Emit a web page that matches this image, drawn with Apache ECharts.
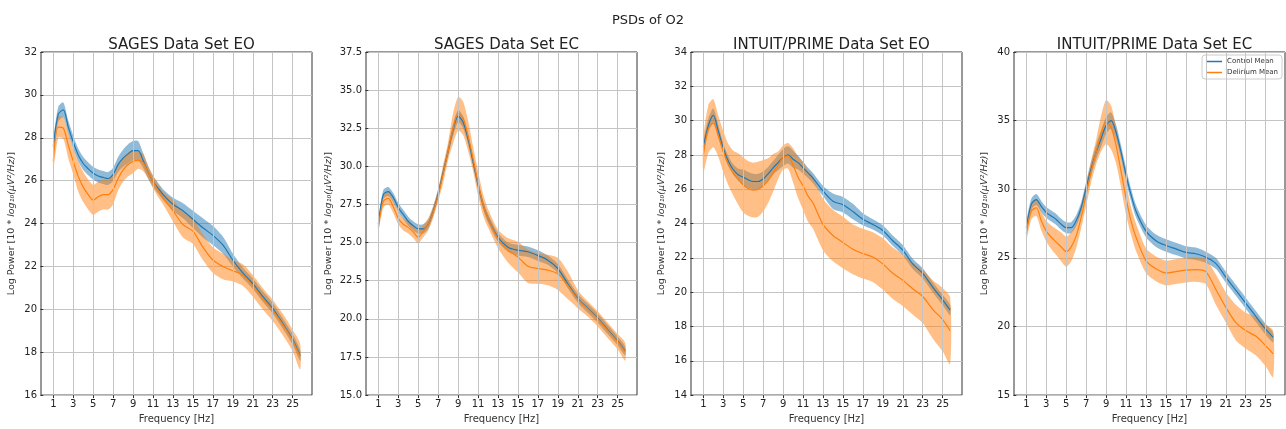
<!DOCTYPE html>
<html>
<head>
<meta charset="utf-8">
<script src="https://cdn.jsdelivr.net/npm/echarts@6/dist/echarts.min.js"></script>
<style>
html,body{margin:0;padding:0;background:#fff;}
#chart{width:1286px;height:429px;}
</style>
</head>
<body>
<div id="chart"></div>
<script>
// Frequency grid (Hz)
const freqs = [1,1.5,2,2.5,3,3.5,4,4.5,5,5.5,6,6.5,7,7.5,8,8.5,9,9.5,10,10.5,11,11.5,12,13,14,15,16,17,18,19,20,21,22,23,24,25,25.75];
const xTicks = [1,3,5,7,9,11,13,15,17,19,21,23,25];

const mainTitle = 'PSDs of O2';
const panelTitles = ['SAGES Data Set EO','SAGES Data Set EC','INTUIT/PRIME Data Set EO','INTUIT/PRIME Data Set EC'];
const legendNames = ['Control Mean','Delirium Mean'];

// SAGES EO
const sagesEoControl   = [27.6,29.1,29.3,28.5,27.8,27.2,26.8,26.55,26.35,26.22,26.15,26.1,26.3,26.75,27.05,27.25,27.4,27.4,26.95,26.4,25.95,25.65,25.35,24.9,24.6,24.2,23.8,23.45,23.0,22.3,21.7,21.2,20.6,20.05,19.35,18.6,17.85];
const sagesEoControlSd = [0.3,0.35,0.35,0.3,0.3,0.3,0.3,0.3,0.3,0.3,0.3,0.3,0.3,0.35,0.4,0.45,0.45,0.45,0.35,0.3,0.25,0.25,0.25,0.3,0.35,0.4,0.45,0.45,0.4,0.3,0.25,0.25,0.25,0.25,0.25,0.25,0.25];
const sagesEoDelirium   = [26.9,28.5,28.45,27.65,26.9,26.2,25.7,25.35,25.1,25.25,25.35,25.35,25.6,26.1,26.5,26.75,26.9,26.95,26.85,26.4,25.95,25.55,25.2,24.6,23.95,23.65,22.9,22.3,22.0,21.8,21.6,21.1,20.5,19.95,19.3,18.55,17.8];
const sagesEoDeliriumSd = [0.4,0.5,0.5,0.6,0.6,0.7,0.7,0.7,0.7,0.7,0.7,0.7,0.7,0.55,0.55,0.55,0.55,0.4,0.4,0.3,0.3,0.3,0.3,0.5,0.6,0.6,0.6,0.6,0.6,0.5,0.5,0.5,0.5,0.5,0.5,0.5,0.6];

// SAGES EC
const sagesEcControl   = [26.2,28.15,28.35,27.95,27.3,26.85,26.4,26.1,25.9,25.9,26.2,27.05,28.2,29.6,31.0,32.4,33.3,32.9,31.8,30.3,28.8,27.5,26.6,25.35,24.7,24.5,24.4,24.15,23.85,23.3,22.3,21.35,20.7,20.05,19.3,18.55,17.9];
const sagesEcControlSd = [0.3,0.3,0.3,0.3,0.3,0.3,0.3,0.3,0.3,0.3,0.3,0.3,0.3,0.3,0.35,0.4,0.4,0.4,0.35,0.3,0.3,0.3,0.3,0.3,0.3,0.35,0.35,0.35,0.3,0.3,0.3,0.3,0.3,0.3,0.3,0.3,0.3];
const sagesEcDelirium   = [26.0,27.7,27.9,27.35,26.6,26.2,26.0,25.7,25.35,25.75,26.2,27.0,28.1,29.5,31.0,32.5,33.45,33.15,32.0,30.5,28.9,27.5,26.6,25.25,24.5,24.05,23.45,23.3,23.2,22.95,22.2,21.3,20.65,20.0,19.25,18.5,17.85];
const sagesEcDeliriumSd = [0.3,0.4,0.4,0.4,0.4,0.4,0.4,0.4,0.4,0.4,0.4,0.4,0.4,0.6,0.6,1.0,1.1,1.1,1.0,0.8,0.8,0.7,0.6,0.6,0.8,1.0,1.1,1.0,1.0,1.05,0.9,0.6,0.5,0.5,0.5,0.5,0.6];

// INTUIT/PRIME EO
const intuitEoControl   = [28.45,29.7,30.3,29.4,28.4,27.65,27.15,26.85,26.7,26.55,26.45,26.45,26.6,26.9,27.25,27.55,27.85,28.0,27.75,27.55,27.25,26.95,26.65,25.9,25.3,25.1,24.7,24.25,23.95,23.6,23.0,22.45,21.65,21.1,20.3,19.55,18.95];
const intuitEoControlSd = [0.3,0.4,0.4,0.35,0.3,0.3,0.3,0.35,0.45,0.45,0.45,0.45,0.45,0.4,0.4,0.45,0.5,0.5,0.5,0.4,0.35,0.3,0.3,0.3,0.45,0.45,0.45,0.35,0.3,0.3,0.3,0.3,0.3,0.3,0.3,0.3,0.3];
const intuitEoDelirium   = [27.95,29.5,29.85,29.1,28.2,27.45,26.95,26.6,26.25,26.05,25.95,26.0,26.2,26.5,26.95,27.4,27.85,27.95,27.4,26.7,26.2,25.6,25.2,23.95,23.3,22.9,22.5,22.25,22.05,21.65,21.1,20.7,20.2,19.75,19.0,18.4,17.75];
const intuitEoDeliriumSd = [1.0,1.4,1.4,1.2,1.2,1.2,1.3,1.5,1.6,1.6,1.6,1.6,1.5,1.3,1.1,0.8,0.7,0.75,1.0,1.2,1.4,1.5,1.5,1.5,1.5,1.5,1.45,1.45,1.45,1.5,1.5,1.5,1.5,1.55,1.7,1.85,1.95];

// INTUIT/PRIME EC
const intuitEcControl   = [27.2,28.9,29.25,28.75,28.3,28.05,27.8,27.45,27.2,27.2,27.7,28.65,30.1,31.5,32.7,33.7,34.65,35.0,34.15,32.7,31.05,29.6,28.4,26.95,26.25,25.9,25.65,25.4,25.3,25.05,24.6,23.6,22.65,21.7,20.75,19.8,19.2];
const intuitEcControlSd = [0.4,0.4,0.4,0.4,0.4,0.4,0.4,0.4,0.4,0.4,0.4,0.4,0.45,0.5,0.55,0.6,0.6,0.6,0.55,0.5,0.5,0.45,0.45,0.45,0.45,0.45,0.45,0.45,0.45,0.4,0.4,0.4,0.4,0.4,0.4,0.4,0.35];
const intuitEcDelirium   = [26.75,28.4,28.65,27.7,26.95,26.5,26.15,25.8,25.45,25.8,26.6,27.95,29.6,31.3,32.7,34.05,34.9,34.5,33.2,31.3,29.35,27.7,26.5,24.8,24.2,23.9,24.0,24.1,24.15,24.0,22.7,21.4,20.3,19.7,19.3,18.6,18.0];
const intuitEcDeliriumSd = [0.5,0.6,0.6,0.7,0.75,0.85,0.95,1.05,1.1,1.05,0.9,0.8,0.8,0.8,0.9,1.3,1.6,1.6,1.3,1.2,1.2,1.0,1.0,0.9,0.9,0.9,0.9,0.9,0.9,0.9,1.1,1.1,1.3,1.3,1.4,1.5,1.7];

// Y axis ranges per panel
const yMins = [16,15,14,15];
const yMaxs = [32,37.5,34,40];
const yIntervals = [2,2.5,2,5];

const panels = [
  {c: sagesEoControl, cs: sagesEoControlSd, d: sagesEoDelirium, ds: sagesEoDeliriumSd},
  {c: sagesEcControl, cs: sagesEcControlSd, d: sagesEcDelirium, ds: sagesEcDeliriumSd},
  {c: intuitEoControl, cs: intuitEoControlSd, d: intuitEoDelirium, ds: intuitEoDeliriumSd},
  {c: intuitEcControl, cs: intuitEcControlSd, d: intuitEcDelirium, ds: intuitEcDeliriumSd}
];

const BLUE = '#1f77b4', ORANGE = '#ff7f0e';
const BLUE_FILL = 'rgba(31,119,180,0.5)', ORANGE_FILL = 'rgba(255,127,14,0.5)';
const gridLefts = [41, 366, 691, 1014];
const gridWidth = 271;
const nameGaps = [24, 32, 24, 24];
const FONT = 'DejaVu Sans';
const GRID_COLOR = '#c4c4c4';

const grids = [], xAxes = [], yAxes = [], series = [], titles = [];
titles.push({text: mainTitle, left: 643, top: 9, textAlign: 'center',
  textStyle: {fontFamily: FONT, fontSize: 13, fontWeight: 'normal', color: '#222'}});

function bandSeries(i, mean, sd, fill) {
  const data = freqs.map((f, k) => [f, mean[k] - sd[k], mean[k] + sd[k]]);
  return {
    type: 'custom', xAxisIndex: i, yAxisIndex: i, silent: true, clip: true,
    encode: {x: 0, y: [1, 2]}, data: data,
    renderItem: (params, api) => {
      if (params.dataIndex !== 0) return null;
      const up = data.map(d => api.coord([d[0], d[2]]));
      const lo = data.map(d => api.coord([d[0], d[1]])).reverse();
      return {type: 'polygon', shape: {points: up.concat(lo), smooth: 0.25},
        style: {fill: fill, stroke: null}};
    }
  };
}

panels.forEach((p, i) => {
  grids.push({left: gridLefts[i], width: gridWidth, top: 52, height: 348, show: true,
    borderColor: '#333', borderWidth: 1, backgroundColor: 'transparent'});
  titles.push({text: panelTitles[i], left: gridLefts[i] + gridWidth / 2, top: 33, textAlign: 'center',
    textStyle: {fontFamily: FONT, fontSize: 15, fontWeight: 'normal', color: '#222'}});
  xAxes.push({type: 'value', gridIndex: i, min: -0.235, max: 26.94,
    name: 'Frequency [Hz]', nameLocation: 'middle', nameGap: 17,
    nameTextStyle: {fontFamily: FONT, fontSize: 10, color: '#333'},
    axisLine: {show: false},
    axisTick: {show: true, inside: false, length: 3, customValues: xTicks, lineStyle: {color: '#333'}},
    axisLabel: {customValues: xTicks, fontFamily: FONT, fontSize: 10, color: '#222', margin: 4},
    splitLine: {show: false}
  });
  yAxes.push({type: 'value', gridIndex: i, min: yMins[i], max: yMaxs[i], interval: yIntervals[i],
    name: 'Log Power [10 * {it|log₁₀(μV²/Hz)}]', nameLocation: 'middle', nameGap: nameGaps[i], nameRotate: 90,
    nameTextStyle: {fontFamily: FONT, fontSize: 9.5, color: '#333', rich: {it: {fontFamily: FONT, fontSize: 9.5, fontStyle: 'italic', color: '#333'}}},
    axisLine: {show: false},
    axisTick: {show: true, inside: false, length: 3, lineStyle: {color: '#333'}},
    axisLabel: {fontFamily: FONT, fontSize: 10, color: '#222', margin: 4,
      formatter: v => (yIntervals[i] % 1 !== 0 ? v.toFixed(1) : String(v))},
    splitLine: {show: true, lineStyle: {color: GRID_COLOR, width: 1}}
  });

  // vertical grid lines at the labelled ticks
  series.push({type: 'line', xAxisIndex: i, yAxisIndex: i, data: [], silent: true,
    markLine: {silent: true, symbol: 'none', label: {show: false},
      lineStyle: {color: GRID_COLOR, width: 1, type: 'solid'},
      data: xTicks.map(t => ({xAxis: t}))}});

  series.push(bandSeries(i, p.c, p.cs, BLUE_FILL));
  series.push({type: 'line', name: legendNames[0], xAxisIndex: i, yAxisIndex: i,
    data: freqs.map((f, k) => [f, p.c[k]]), symbol: 'none', smooth: 0.3,
    lineStyle: {color: BLUE, width: 1.2}, itemStyle: {color: BLUE}});
  series.push(bandSeries(i, p.d, p.ds, ORANGE_FILL));
  series.push({type: 'line', name: legendNames[1], xAxisIndex: i, yAxisIndex: i,
    data: freqs.map((f, k) => [f, p.d[k]]), symbol: 'none', smooth: 0.3,
    lineStyle: {color: ORANGE, width: 1.2}, itemStyle: {color: ORANGE}});
});

const chart = echarts.init(document.getElementById('chart'), null, {renderer: 'canvas'});
chart.setOption({
  animation: false,
  backgroundColor: '#fff',
  textStyle: {fontFamily: FONT},
  title: titles,
  grid: grids,
  xAxis: xAxes,
  yAxis: yAxes,
  legend: {data: legendNames.map(n => ({name: n, icon: 'rect'})), orient: 'vertical', right: 4, top: 55,
    backgroundColor: '#fff', borderColor: '#ccc', borderWidth: 1, borderRadius: 3,
    padding: [3, 4], itemGap: 4, itemWidth: 16, itemHeight: 1.5,
    textStyle: {fontFamily: FONT, fontSize: 7, color: '#333'}},
  series: series
});
</script>
</body>
</html>
